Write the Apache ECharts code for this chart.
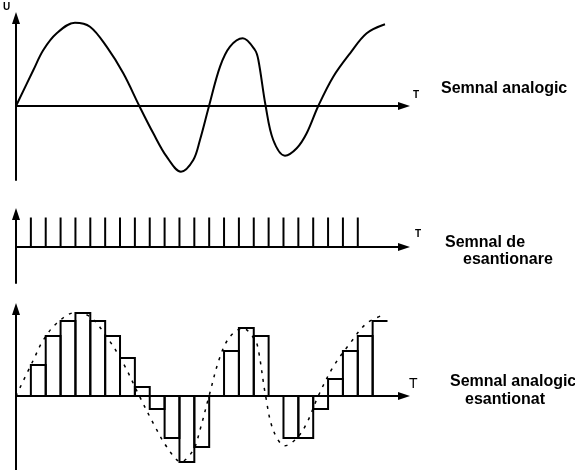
<!DOCTYPE html>
<html>
<head>
<meta charset="utf-8">
<script src="https://cdn.jsdelivr.net/npm/echarts@6/dist/echarts.min.js"></script>
<style>
  html, body { margin: 0; padding: 0; background: #fff; }
  #chart { width: 575px; height: 470px; }
</style>
</head>
<body>
<div id="chart"></div>
<script>
  // semnal analogic, T in perioade de esantionare
  var curveT = [0, 1.17, 1.84, 2.74, 3.97, 4.98, 6.10, 7.22, 8.30, 9.24, 10.14, 11.10, 11.93, 12.38, 12.99,
    13.73, 14.40, 15.26, 16.08, 16.31, 16.80, 17.31, 18.10, 18.89, 19.56, 20.34, 21.35, 22.48, 23.60, 24.83]
  var curveU = [0, 3.6, 5.6, 7.27, 8.33, 7.93, 5.93, 3.27, 0, -2.73, -5.07, -6.57, -5.4, -3.4, 0,
    3.93, 5.93, 6.77, 5.6, 4.6, 0, -3.4, -4.97, -4.23, -2.73, 0, 2.93, 5.27, 7.27, 8.17]

  // impulsuri de esantionare
  var pulseT = [1, 2, 3, 4, 5, 6, 7, 8, 9, 10, 11, 12, 13, 14, 15, 16, 17, 18, 19, 20, 21, 22, 23]
  var pulseU = [2.95, 2.95, 2.95, 2.95, 2.95, 2.95, 2.95, 2.95, 2.95, 2.95, 2.95, 2.95,
    2.95, 2.95, 2.95, 2.95, 2.95, 2.95, 2.95, 2.95, 2.95, 2.95, 2.95]

  // valori esantionate (mentinute o perioada)
  var sampleT = [1, 2, 3, 4, 5, 6, 7, 8, 9, 10, 11, 12, 13, 14, 15, 16, 17, 18, 19, 20, 21, 22, 23, 24]
  var sampleU = [3.1, 6.0, 7.5, 8.3, 7.5, 6.0, 3.8, 0.9, -1.3, -4.2, -6.6, -5.1, 0, 4.5, 6.8, 6.0,
    0, -4.2, -4.2, -1.3, 1.7, 4.5, 6.0, 7.5]

  var tMax = 26.11

  var chart = echarts.init(document.getElementById('chart'))

  function zip(a, b) {
    return a.map(function (v, i) {
      return [v, b[i]]
    })
  }

  var axisLine = {
    show: true,
    onZero: true,
    symbol: ['none', 'triangle'],
    symbolSize: [8, 12],
    lineStyle: { color: '#000', width: 2 },
  }

  function xAx(i, nameGap, nameStyle) {
    return {
      type: 'value',
      gridIndex: i,
      min: 0,
      max: tMax,
      axisLine: axisLine,
      axisTick: { show: false },
      axisLabel: { show: false },
      splitLine: { show: false },
      name: 'T',
      nameLocation: 'end',
      nameGap: nameGap,
      nameTextStyle: nameStyle,
    }
  }

  function yAx(i, min, max) {
    return {
      type: 'value',
      gridIndex: i,
      min: min,
      max: max,
      axisLine: axisLine,
      axisTick: { show: false },
      axisLabel: { show: false },
      splitLine: { show: false },
    }
  }

  var labelFont = { fontFamily: 'Liberation Sans', fontSize: 16, fontWeight: 'bold', fill: '#000' }

  function label(text, x, y) {
    return {
      type: 'text',
      x: x,
      y: y,
      style: Object.assign({ text: text, verticalAlign: 'middle' }, labelFont),
    }
  }

  var option = {
    animation: false,
    backgroundColor: '#fff',
    grid: [
      { left: 16, top: 18, width: 388, height: 162, outerBoundsMode: 'none' },
      { left: 16, top: 214, width: 388, height: 69, outerBoundsMode: 'none' },
      { left: 16, top: 309, width: 388, height: 161, outerBoundsMode: 'none' },
    ],
    xAxis: [
      xAx(0, 9, { color: '#000', fontSize: 10, fontWeight: 'bold', fontFamily: 'Liberation Sans', verticalAlign: 'bottom', padding: [0, 0, 6, 0] }),
      xAx(1, 11, { color: '#000', fontSize: 10, fontWeight: 'bold', fontFamily: 'Liberation Sans', verticalAlign: 'bottom', padding: [0, 0, 8, 0] }),
      xAx(2, 5, { color: '#000', fontSize: 14, fontFamily: 'Liberation Sans', verticalAlign: 'bottom', padding: [0, 0, 5, 0] }),
    ],
    yAxis: [yAx(0, -7.4, 8.8), yAx(1, -3.6, 3.3), yAx(2, -7.4, 8.7)],
    graphic: [
      {
        type: 'text',
        x: 3,
        y: 7,
        style: { text: 'U', fontFamily: 'Liberation Sans', fontSize: 10, fontWeight: 'bold', fill: '#000', verticalAlign: 'middle' },
      },
      label('Semnal analogic', 441, 89),
      label('Semnal de', 445, 243),
      label('esantionare', 463, 260),
      label('Semnal analogic', 450, 382),
      label('esantionat', 465, 400),
    ],
    series: [
      {
        name: 'Semnal analogic',
        type: 'line',
        xAxisIndex: 0,
        yAxisIndex: 0,
        smooth: 0.35,
        showSymbol: false,
        lineStyle: { color: '#000', width: 2 },
        data: zip(curveT, curveU),
      },
      {
        name: 'Semnal de esantionare',
        type: 'bar',
        xAxisIndex: 1,
        yAxisIndex: 1,
        barWidth: 2,
        itemStyle: { color: '#000' },
        data: zip(pulseT, pulseU),
      },
      {
        name: 'Semnal analogic (punctat)',
        type: 'line',
        xAxisIndex: 2,
        yAxisIndex: 2,
        smooth: 0.35,
        showSymbol: false,
        lineStyle: { color: '#000', width: 1.5, type: [3, 6] },
        data: zip(curveT, curveU),
      },
      {
        name: 'Semnal analogic esantionat',
        type: 'custom',
        xAxisIndex: 2,
        yAxisIndex: 2,
        renderItem: function (params, api) {
          var t = api.value(0)
          var u = api.value(1)
          var p0 = api.coord([t, 0])
          var p1 = api.coord([t, u])
          var p2 = api.coord([t + 1, u])
          var p3 = api.coord([t + 1, 0])
          var pts = params.dataIndex === sampleU.length - 1 ? [p0, p1, p2] : [p0, p1, p2, p3]
          return {
            type: 'polyline',
            shape: { points: pts },
            style: { stroke: '#000', lineWidth: 2, fill: 'none' },
          }
        },
        data: zip(sampleT, sampleU),
      },
    ],
  }

  chart.setOption(option)
</script>
</body>
</html>
